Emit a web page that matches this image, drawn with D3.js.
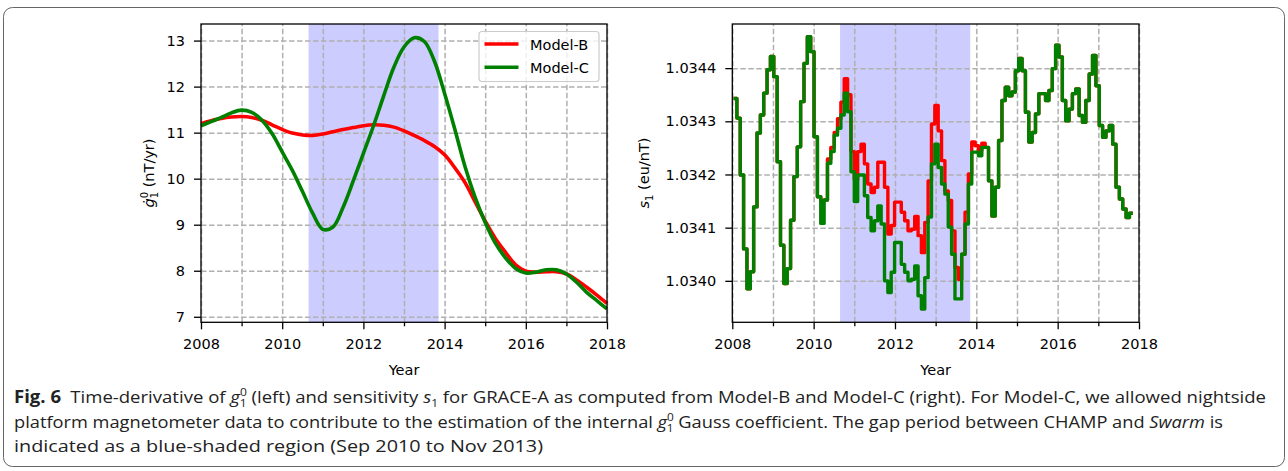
<!DOCTYPE html>
<html>
<head>
<meta charset="utf-8">
<script src="https://cdn.jsdelivr.net/npm/d3@7"></script>
<style>
  body { margin: 0; background: #fff; }
  svg { display: block; }
</style>
</head>
<body>
<svg id="fig" width="1288" height="471"></svg>
<script>
//======
// Data
//======

// left panel: time-derivative of g10 (nT/yr), quarter-year knots
const g10Years = [2008, 2008.25, 2008.5, 2008.75, 2009, 2009.25, 2009.5, 2009.75, 2010, 2010.25,
  2010.5, 2010.75, 2011, 2011.25, 2011.5, 2011.75, 2012, 2012.25, 2012.5, 2012.75,
  2013, 2013.25, 2013.5, 2013.75, 2014, 2014.25, 2014.5, 2014.75, 2015, 2015.25,
  2015.5, 2015.75, 2016, 2016.25, 2016.5, 2016.75, 2017, 2017.25, 2017.5, 2017.75, 2018];
const g10ModelB = [11.20, 11.26, 11.31, 11.34, 11.35, 11.33, 11.27, 11.17, 11.07, 10.99,
  10.95, 10.94, 10.97, 11.02, 11.07, 11.11, 11.15, 11.17, 11.16, 11.12,
  11.04, 10.94, 10.83, 10.70, 10.52, 10.24, 9.92, 9.50, 9.08, 8.70,
  8.40, 8.13, 7.99, 7.97, 7.98, 7.98, 7.93, 7.80, 7.64, 7.47, 7.29];
const g10ModelC = [11.15, 11.24, 11.33, 11.43, 11.49, 11.44, 11.27, 10.98, 10.58, 10.18,
  9.72, 9.25, 8.90, 8.95, 9.38, 9.95, 10.55, 11.15, 11.80, 12.42,
  12.86, 13.06, 12.98, 12.55, 11.85, 11.08, 10.27, 9.60, 9.05, 8.60,
  8.28, 8.05, 7.95, 7.97, 8.02, 8.02, 7.93, 7.75, 7.53, 7.35, 7.17];

// right panel: sensitivity s1 (eu/nT), one value per ~30 day window
const s1Start = 2008.03;
const s1Step = 0.0825;
const s1ModelB = [
  1.034343, 1.034306, 1.034199, 1.034060, 1.033985, 1.034017, 1.034139, 1.034278, 1.034312, 1.034353,
  1.034397, 1.034422, 1.034384, 1.034224, 1.034067, 1.033995, 1.034023, 1.034114, 1.034196, 1.034252,
  1.034337, 1.034409, 1.034459, 1.034431, 1.034271, 1.034158, 1.034150, 1.034152, 1.034229, 1.034251,
  1.034279, 1.034305, 1.034336, 1.034380, 1.034350, 1.034243, 1.034190, 1.034243, 1.034257, 1.034220,
  1.034182, 1.034166, 1.034176, 1.034223, 1.034223, 1.034176, 1.034088, 1.034104, 1.034148, 1.034148,
  1.034129, 1.034113, 1.034094, 1.034097, 1.034121, 1.034085, 1.034053, 1.034110, 1.034188, 1.034295,
  1.034330, 1.034282, 1.034226, 1.034169, 1.034151, 1.034094, 1.034025, 1.034003, 1.034050, 1.034129,
  1.034201, 1.034261, 1.034254, 1.034245, 1.034259, 1.034251, 1.034188, 1.034122, 1.034176, 1.034264,
  1.034339, 1.034364, 1.034348, 1.034355, 1.034395, 1.034418, 1.034395, 1.034317, 1.034261, 1.034279,
  1.034314, 1.034352, 1.034352, 1.034339, 1.034358, 1.034399, 1.034443, 1.034421, 1.034339, 1.034301,
  1.034323, 1.034352, 1.034361, 1.034311, 1.034298, 1.034339, 1.034389, 1.034424, 1.034367, 1.034292,
  1.034270, 1.034282, 1.034292, 1.034257, 1.034176, 1.034154, 1.034135, 1.034119, 1.034127];
const s1ModelC = [
  1.034343, 1.034306, 1.034199, 1.034060, 1.033985, 1.034017, 1.034139, 1.034278, 1.034312, 1.034353,
  1.034397, 1.034422, 1.034384, 1.034224, 1.034067, 1.033995, 1.034023, 1.034114, 1.034196, 1.034252,
  1.034337, 1.034409, 1.034459, 1.034431, 1.034271, 1.034158, 1.034108, 1.034152, 1.034221, 1.034243,
  1.034274, 1.034287, 1.034312, 1.034353, 1.034318, 1.034205, 1.034149, 1.034199, 1.034199, 1.034160,
  1.034119, 1.034094, 1.034113, 1.034141, 1.034107, 1.034000, 1.033978, 1.034016, 1.034072, 1.034072,
  1.034031, 1.034016, 1.034000, 1.034003, 1.034028, 1.033972, 1.033947, 1.034006, 1.034120, 1.034220,
  1.034257, 1.034213, 1.034182, 1.034163, 1.034101, 1.034050, 1.033966, 1.033966, 1.034050, 1.034107,
  1.034182, 1.034242, 1.034242, 1.034235, 1.034251, 1.034251, 1.034188, 1.034122, 1.034176, 1.034264,
  1.034339, 1.034364, 1.034348, 1.034355, 1.034395, 1.034418, 1.034395, 1.034317, 1.034261, 1.034279,
  1.034314, 1.034352, 1.034352, 1.034339, 1.034358, 1.034399, 1.034443, 1.034421, 1.034339, 1.034301,
  1.034323, 1.034352, 1.034361, 1.034311, 1.034298, 1.034339, 1.034389, 1.034424, 1.034367, 1.034292,
  1.034270, 1.034282, 1.034292, 1.034257, 1.034176, 1.034154, 1.034135, 1.034119, 1.034127];

// gap between CHAMP and Swarm (Sep 2010 to Nov 2013)
const gapPeriod = [2010.65, 2013.85];

const yearTicks = [2008, 2010, 2012, 2014, 2016, 2018];
const yearMinor = [2009, 2011, 2013, 2015, 2017];
const g10Ticks = [7, 8, 9, 10, 11, 12, 13];
const s1Ticks = [1.0340, 1.0341, 1.0342, 1.0343, 1.0344];
const seriesNames = ["Model-B", "Model-C"];
const seriesColors = ["#ff0000", "#008000"];

//=========
// Drawing
//=========

const svg = d3.select("#fig");
const FONT = "DejaVu Sans";
const axTop = 24, axBottom = 322.3;

svg.append("rect").attr("width", 1288).attr("height", 471).attr("fill", "#fff");

// figure frame
svg.append("rect")
  .attr("x", 3.5).attr("y", 7.5).attr("width", 1281).attr("height", 459)
  .attr("rx", 9)
  .attr("fill", "none").attr("stroke", "#666").attr("stroke-width", 1);

function panel(opts) {
  const x = d3.scaleLinear().domain([2008, 2018]).range([opts.left, opts.right]);
  const y = d3.scaleLinear().domain(opts.yDomain).range([axBottom, axTop]);
  const g = svg.append("g");

  // gap shading
  g.append("rect")
    .attr("x", x(gapPeriod[0])).attr("y", axTop)
    .attr("width", x(gapPeriod[1]) - x(gapPeriod[0]))
    .attr("height", axBottom - axTop)
    .attr("fill", "#ccccff");

  // grid
  const grid = g.append("g");
  grid.append("g")
    .attr("transform", `translate(0,${axBottom})`)
    .call(d3.axisBottom(x).tickValues(yearTicks.concat(yearMinor)).tickSize(-(axBottom - axTop)).tickFormat(""));
  grid.append("g")
    .attr("transform", `translate(${opts.left},0)`)
    .call(d3.axisLeft(y).tickValues(opts.yTicks).tickSize(-(opts.right - opts.left)).tickFormat(""));
  grid.selectAll(".domain").remove();
  grid.selectAll("line")
    .attr("stroke", "#b0b0b0").attr("stroke-width", 1.5)
    .attr("stroke-dasharray", "5.5,2.5");

  opts.draw(g, x, y);

  // spines
  g.append("rect")
    .attr("x", opts.left).attr("y", axTop)
    .attr("width", opts.right - opts.left).attr("height", axBottom - axTop)
    .attr("fill", "none").attr("stroke", "#000").attr("stroke-width", 1.3);

  // axes
  const xa = g.append("g")
    .attr("transform", `translate(0,${axBottom})`)
    .call(d3.axisBottom(x).tickValues(yearTicks).tickSize(7).tickPadding(9).tickFormat(d3.format("d")));
  const xm = g.append("g")
    .attr("transform", `translate(0,${axBottom})`)
    .call(d3.axisBottom(x).tickValues(yearMinor).tickSize(4).tickFormat(""));
  const ya = g.append("g")
    .attr("transform", `translate(${opts.left},0)`)
    .call(d3.axisLeft(y).tickValues(opts.yTicks).tickSize(7).tickPadding(9).tickFormat(opts.yFormat));
  [xa, xm, ya].forEach(a => {
    a.select(".domain").remove();
    a.attr("font-family", FONT).attr("font-size", 14.5);
    a.selectAll("text").attr("fill", "#000");
    a.selectAll("line").attr("stroke", "#000").attr("stroke-width", 1.3);
  });

  g.append("text")
    .attr("x", (opts.left + opts.right) / 2).attr("y", 374.5)
    .attr("text-anchor", "middle")
    .attr("font-family", FONT).attr("font-size", 14.5)
    .text("Year");

  return { x, y, g };
}

// left panel
const leftPanel = panel({
  left: 201, right: 607,
  yDomain: [6.88, 13.36], yTicks: g10Ticks, yFormat: d3.format("d"),
  draw: (g, x, y) => {
    const line = d3.line().curve(d3.curveCatmullRom.alpha(0.5))
      .x((d, i) => x(g10Years[i])).y(d => y(d));
    [g10ModelB, g10ModelC].forEach((s, k) => {
      g.append("path").attr("d", line(s))
        .attr("fill", "none").attr("stroke", seriesColors[k])
        .attr("stroke-width", 3.6).attr("stroke-linejoin", "round");
    });
  }
});

// y label: g-dot 1 0 (nT/yr)
const yl = svg.append("text")
  .attr("transform", "translate(154,173) rotate(-90)")
  .attr("text-anchor", "middle")
  .attr("font-family", FONT).attr("font-size", 14.5);
yl.append("tspan").attr("font-style", "italic").text("\u0121");
yl.append("tspan").attr("font-size", 10).attr("dy", -6).text("0");
yl.append("tspan").attr("font-size", 10).attr("dx", -6.4).attr("dy", 10).text("1");
yl.append("tspan").attr("dy", -4).text(" (nT/yr)");

// legend
const lg = leftPanel.g.append("g");
lg.append("rect")
  .attr("x", 479).attr("y", 31.5).attr("width", 120).attr("height", 50).attr("rx", 3)
  .attr("fill", "#fff").attr("fill-opacity", 0.8)
  .attr("stroke", "#cccccc").attr("stroke-width", 1.2);
seriesNames.forEach((name, k) => {
  const yy = 44 + k * 23.3;
  lg.append("line")
    .attr("x1", 484.5).attr("x2", 518.5).attr("y1", yy).attr("y2", yy)
    .attr("stroke", seriesColors[k]).attr("stroke-width", 3.6);
  lg.append("text")
    .attr("x", 530).attr("y", yy + 5.5)
    .attr("font-family", FONT).attr("font-size", 14.5)
    .text(name);
});

// right panel
const rightPanel = panel({
  left: 732.3, right: 1139,
  yDomain: [1.033922, 1.034483], yTicks: s1Ticks, yFormat: d3.format(".4f"),
  draw: (g, x, y) => {
    const line = d3.line().curve(d3.curveStepAfter)
      .x(d => x(d[0])).y(d => y(d[1]));
    [s1ModelB, s1ModelC].forEach((s, k) => {
      const pts = s.map((v, i) => [s1Start + i * s1Step, v]);
      pts.push([s1Start + s.length * s1Step, s[s.length - 1]]);
      g.append("path").attr("d", line(pts))
        .attr("fill", "none").attr("stroke", seriesColors[k])
        .attr("stroke-width", 3.4).attr("stroke-linejoin", "round");
    });
  }
});

const yr = svg.append("text")
  .attr("transform", "translate(649,173) rotate(-90)")
  .attr("text-anchor", "middle")
  .attr("font-family", FONT).attr("font-size", 14.5);
yr.append("tspan").attr("font-style", "italic").text("s");
yr.append("tspan").attr("font-size", 10).attr("dy", 4).text("1");
yr.append("tspan").attr("dy", -4).text(" (eu/nT)");

//=========
// Caption
//=========
const CAP = "Open Sans";
function gsym(t) {
  t.append("tspan").attr("font-style", "italic").text("g");
  t.append("tspan").attr("font-size", 11).attr("dy", -7).text("0");
  t.append("tspan").attr("font-size", 11).attr("dx", -6.5).attr("dy", 11).text("1");
}
const c1 = svg.append("text").attr("x", 14).attr("y", 403)
  .attr("font-family", CAP).attr("font-size", 17).attr("fill", "#222")
  .attr("textLength", 1252).attr("lengthAdjust", "spacingAndGlyphs");
c1.append("tspan").attr("font-weight", "bold").text("Fig. 6");
c1.append("tspan").text("\u2002Time-derivative of ");
gsym(c1);
c1.append("tspan").attr("dy", -4).text(" (left) and sensitivity ");
c1.append("tspan").attr("font-style", "italic").text("s");
c1.append("tspan").attr("font-size", 11).attr("dy", 4).text("1");
c1.append("tspan").attr("dy", -4).text(" for GRACE-A as computed from Model-B and Model-C (right). For Model-C, we allowed nightside");

const c2 = svg.append("text").attr("x", 14).attr("y", 428)
  .attr("font-family", CAP).attr("font-size", 17).attr("fill", "#222")
  .attr("textLength", 1209).attr("lengthAdjust", "spacingAndGlyphs");
c2.append("tspan").text("platform magnetometer data to contribute to the estimation of the internal ");
gsym(c2);
c2.append("tspan").attr("dy", -4).text(" Gauss coefficient. The gap period between CHAMP and ");
c2.append("tspan").attr("font-style", "italic").text("Swarm");
c2.append("tspan").text(" is");

svg.append("text").attr("x", 14).attr("y", 452)
  .attr("font-family", CAP).attr("font-size", 17).attr("fill", "#222")
  .attr("textLength", 529).attr("lengthAdjust", "spacingAndGlyphs")
  .text("indicated as a blue-shaded region (Sep 2010 to Nov 2013)");
</script>
</body>
</html>
